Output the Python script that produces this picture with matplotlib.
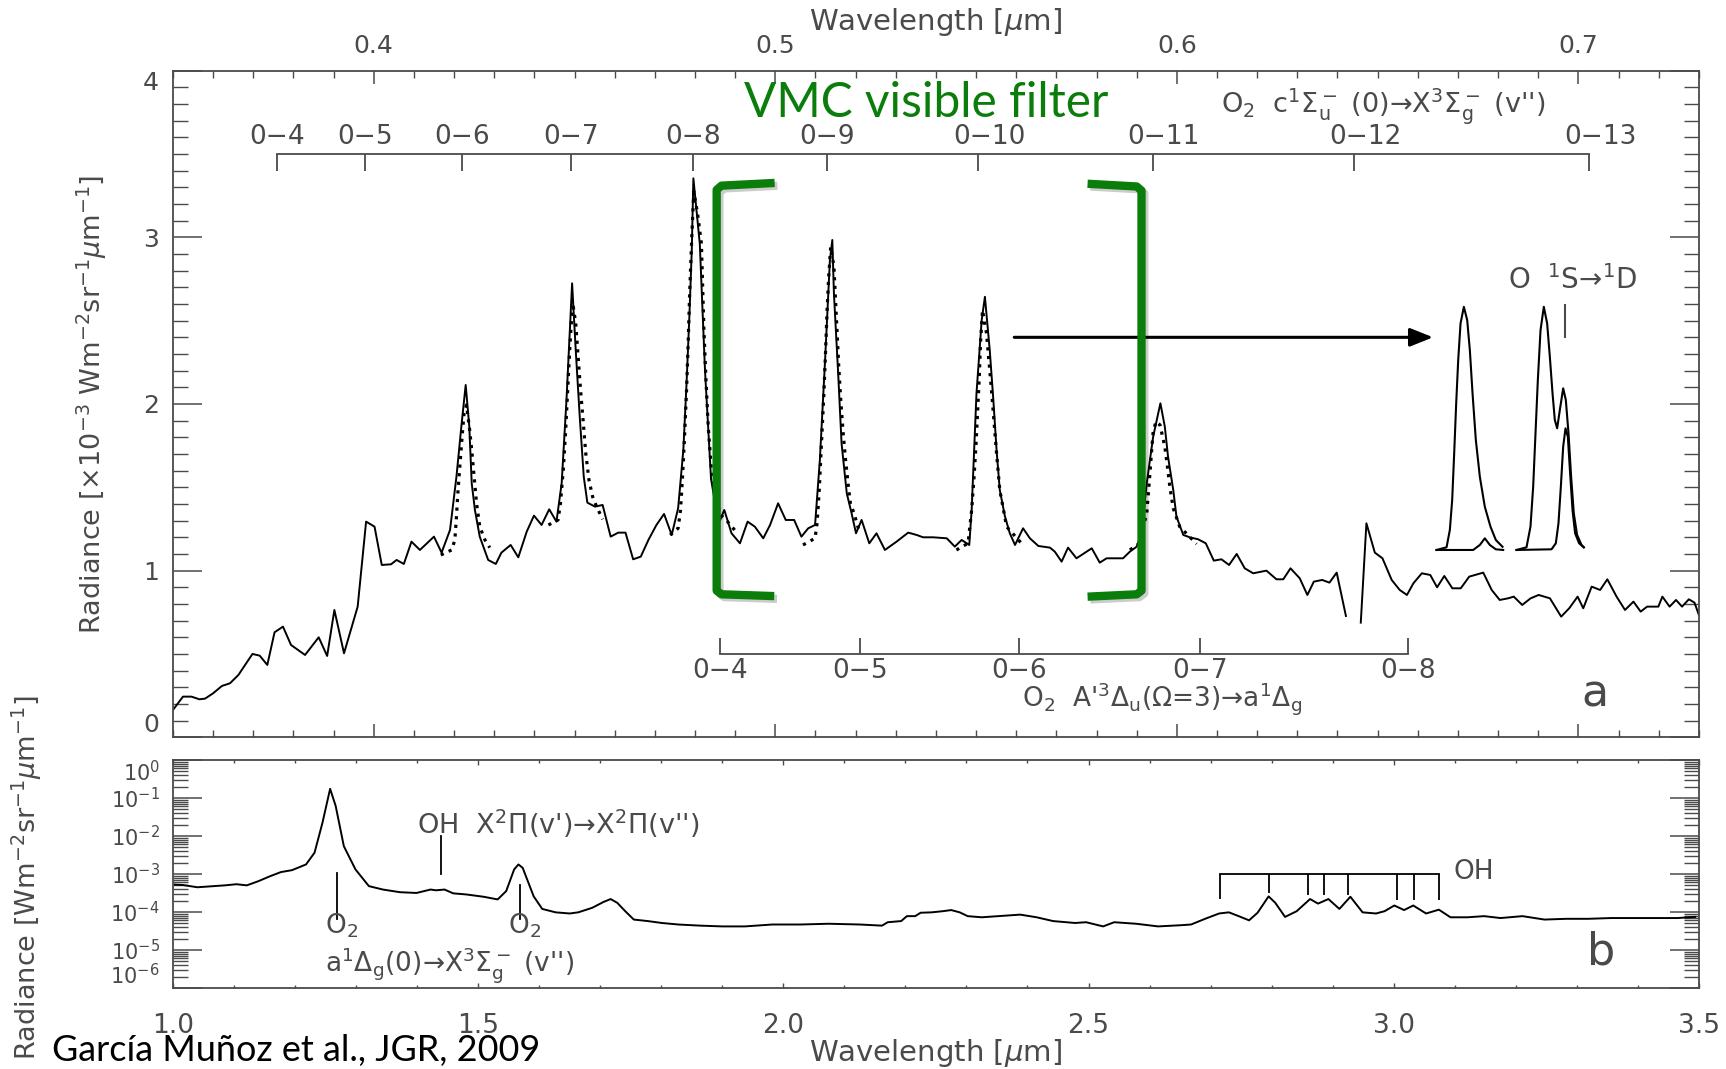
import numpy as np
import matplotlib
matplotlib.use("Agg")
import matplotlib.pyplot as plt
import matplotlib.patheffects as pe
from matplotlib.ticker import MultipleLocator, LogLocator, NullFormatter, FormatStrFormatter

GREY = "#4a4a4a"
GREEN = "#0a7d0a"
plt.rcParams.update({
    "font.family": "DejaVu Sans", "mathtext.fontset": "dejavusans",
    "text.color": GREY, "axes.labelcolor": GREY, "axes.edgecolor": GREY,
    "xtick.color": GREY, "ytick.color": GREY, "axes.linewidth": 1.3,
    "xtick.direction": "in", "ytick.direction": "in",
})

# ---------------------------------------------------------------------------
# panel a: visible spectrum (radiance in 1e-3 W m-2 sr-1 um-1), nan = gap
# ---------------------------------------------------------------------------
vis_wl = [0.3500, 0.3525, 0.3546, 0.3566, 0.3580, 0.3600, 0.3622, 0.3642, 0.3663, 0.3698,
          0.3716, 0.3735, 0.3753, 0.3774, 0.3794, 0.3829, 0.3863, 0.3884, 0.3902, 0.3926,
          0.3960, 0.3981, 0.4002, 0.4020, 0.4043, 0.4057, 0.4075, 0.4094, 0.4115, 0.4150,
          0.4169, 0.4190, 0.4206, 0.4219, 0.4229, 0.4238, 0.4244, 0.4252, 0.4264, 0.4285,
          0.4304, 0.4318, 0.4341, 0.4360, 0.4381, 0.4399, 0.4418, 0.4437, 0.4455, 0.4468,
          0.4480, 0.4494, 0.4503, 0.4513, 0.4523, 0.4532, 0.4551, 0.4570, 0.4590, 0.4609,
          0.4627, 0.4646, 0.4665, 0.4684, 0.4704, 0.4723, 0.4742, 0.4758, 0.4771, 0.4779,
          0.4786, 0.4792, 0.4796, 0.4812, 0.4825, 0.4840, 0.4852, 0.4862, 0.4873, 0.4891,
          0.4912, 0.4931, 0.4949, 0.4970, 0.4987, 0.5007, 0.5026, 0.5047, 0.5065, 0.5082,
          0.5099, 0.5111, 0.5124, 0.5136, 0.5142, 0.5146, 0.5157, 0.5165, 0.5178, 0.5190,
          0.5201, 0.5215, 0.5234, 0.5252, 0.5273, 0.5302, 0.5331, 0.5352, 0.5368, 0.5393,
          0.5427, 0.5447, 0.5464, 0.5483, 0.5489, 0.5501, 0.5514, 0.5522, 0.5534, 0.5543,
          0.5551, 0.5559, 0.5572, 0.5584, 0.5597, 0.5617, 0.5634, 0.5655, 0.5684, 0.5696,
          0.5713, 0.5729, 0.5750, 0.5788, 0.5808, 0.5825, 0.5866, 0.5883, 0.5900, 0.5912,
          0.5925, 0.5941, 0.5959, 0.5970, 0.5978, 0.5991, 0.5999, 0.6016, 0.6032, 0.6053,
          0.6072, 0.6092, 0.6111, 0.6130, 0.6149, 0.6169, 0.6190, 0.6223, 0.6248, 0.6265,
          0.6283, 0.6306, 0.6325, 0.6341, 0.6362, 0.6380, 0.6398, 0.6421, np.nan, 0.6458,
          0.6472, 0.6493, 0.6512, 0.6535, 0.6555, 0.6573, 0.6589, 0.6610, 0.6631, 0.6648,
          0.6666, 0.6686, 0.6707, 0.6728, 0.6763, 0.6784, 0.6804, 0.6825, 0.6839, 0.6860,
          0.6881, 0.6901, 0.6929, 0.6957, 0.6977, 0.6998, 0.7012, 0.7033, 0.7054, 0.7072,
          0.7095, 0.7116, 0.7137, 0.7155, 0.7171, 0.7199, 0.7209, 0.7227, 0.7243, 0.7258,
          0.7275, 0.7289, 0.7300]
vis_rad = [0.164, 0.244, 0.244, 0.228, 0.232, 0.264, 0.308, 0.324, 0.374, 0.500,
           0.490, 0.434, 0.630, 0.664, 0.554, 0.494, 0.600, 0.488, 0.764, 0.504,
           0.784, 1.294, 1.264, 1.034, 1.038, 1.064, 1.040, 1.174, 1.124, 1.204,
           1.108, 1.244, 1.564, 1.884, 2.114, 1.864, 1.524, 1.364, 1.204, 1.064,
           1.040, 1.108, 1.154, 1.080, 1.234, 1.330, 1.274, 1.368, 1.294, 1.524,
           2.024, 2.724, 2.324, 1.924, 1.564, 1.408, 1.384, 1.394, 1.204, 1.228,
           1.228, 1.068, 1.084, 1.184, 1.274, 1.340, 1.214, 1.374, 1.724, 2.124,
           2.524, 2.924, 3.354, 2.960, 2.200, 1.550, 1.380, 1.300, 1.364, 1.224,
           1.164, 1.294, 1.264, 1.194, 1.274, 1.404, 1.304, 1.304, 1.204, 1.254,
           1.274, 1.664, 2.264, 2.864, 2.984, 2.663, 2.163, 1.764, 1.464, 1.344,
           1.224, 1.304, 1.164, 1.224, 1.124, 1.174, 1.228, 1.214, 1.200, 1.200,
           1.194, 1.144, 1.184, 1.154, 1.364, 2.064, 2.504, 2.643, 2.324, 2.024,
           1.724, 1.484, 1.324, 1.224, 1.154, 1.254, 1.194, 1.148, 1.138, 1.114,
           1.054, 1.138, 1.074, 1.134, 1.048, 1.074, 1.074, 1.114, 1.144, 1.224,
           1.524, 1.804, 2.004, 1.864, 1.684, 1.484, 1.324, 1.214, 1.200, 1.188,
           1.164, 1.060, 1.068, 1.034, 1.100, 1.014, 0.984, 1.000, 0.948, 0.948,
           1.014, 0.954, 0.854, 0.934, 0.944, 0.928, 0.988, 0.728, np.nan, 0.688,
           1.284, 1.108, 1.074, 0.944, 0.884, 0.854, 0.924, 0.984, 0.974, 0.900,
           0.968, 0.894, 0.894, 0.964, 0.988, 0.884, 0.824, 0.834, 0.844, 0.794,
           0.834, 0.854, 0.834, 0.724, 0.774, 0.844, 0.774, 0.904, 0.884, 0.948,
           0.844, 0.764, 0.814, 0.754, 0.784, 0.784, 0.844, 0.784, 0.824, 0.784,
           0.828, 0.808, 0.734]

# synthetic band profiles (dotted), nan separates the bands
model_wl = [0.4167, 0.4194, 0.4202, 0.4206, 0.4210, 0.4215, 0.4220, 0.4225, 0.4231, 0.4238,
            0.4244, 0.4250, 0.4256, 0.4264, 0.4277, 0.4289, np.nan,
            0.4435, 0.4459, 0.4465, 0.4472, 0.4478, 0.4483, 0.4488, 0.4493, 0.4497, 0.4503,
            0.4509, 0.4515, 0.4522, 0.4528, 0.4536, 0.4545, 0.4555, 0.4570, np.nan,
            0.4738, 0.4758, 0.4764, 0.4769, 0.4774, 0.4779, 0.4783, 0.4787, 0.4792, 0.4797,
            0.4806, 0.4816, 0.4822, 0.4827, 0.4833, 0.4841, 0.4852, 0.4866, 0.4879, 0.4900, np.nan,
            0.5069, 0.5099, 0.5104, 0.5109, 0.5113, 0.5117, 0.5121, 0.5125, 0.5129, 0.5133,
            0.5138, 0.5146, 0.5150, 0.5154, 0.5158, 0.5163, 0.5169, 0.5175, 0.5182, 0.5187,
            0.5196, 0.5208, np.nan,
            0.5451, 0.5480, 0.5489, 0.5495, 0.5500, 0.5504, 0.5508, 0.5511, 0.5516, 0.5526,
            0.5539, 0.5551, 0.5559, 0.5576, 0.5613, np.nan,
            0.5883, 0.5905, 0.5925, 0.5931, 0.5937, 0.5941, 0.5948, 0.5958, 0.5970, 0.5977,
            0.5983, 0.5991, 0.6007, 0.6049]
model_rad = [1.094, 1.124, 1.184, 1.324, 1.484, 1.644, 1.804, 1.944, 1.994, 1.864,
             1.724, 1.564, 1.404, 1.264, 1.184, 1.138, np.nan,
             1.274, 1.304, 1.404, 1.604, 1.844, 2.084, 2.324, 2.524, 2.583, 2.484,
             2.284, 2.084, 1.884, 1.704, 1.544, 1.444, 1.384, 1.308, np.nan,
             1.214, 1.254, 1.364, 1.564, 1.804, 2.084, 2.364, 2.684, 3.000, 3.274,
             3.150, 2.963, 2.463, 2.163, 1.863, 1.600, 1.420, 1.330, 1.300, 1.240, np.nan,
             1.154, 1.194, 1.284, 1.464, 1.664, 1.864, 2.064, 2.304, 2.564, 2.764,
             2.943, 2.823, 2.624, 2.424, 2.224, 2.024, 1.824, 1.664, 1.504, 1.404,
             1.344, 1.244, np.nan,
             1.124, 1.164, 1.364, 1.564, 1.764, 1.964, 2.164, 2.364, 2.563, 2.424,
             2.064, 1.704, 1.484, 1.264, 1.164, np.nan,
             1.124, 1.160, 1.344, 1.524, 1.714, 1.834, 1.894, 1.874, 1.744, 1.614,
             1.494, 1.374, 1.264, 1.160]

# O 1S->1D green line sketches (inset profiles)
green_a_wl = [0.66466, 0.66716, 0.66798, 0.66856, 0.66906, 0.66956, 0.67006, 0.67064, 0.67147,
              0.67230, 0.67296, 0.67363, 0.67445, 0.67545, 0.67669, 0.67811, 0.67943, 0.68110]
green_a_rad = [1.124, 1.140, 1.244, 1.424, 1.704, 2.004, 2.263, 2.483, 2.583,
               2.503, 2.323, 2.064, 1.784, 1.563, 1.383, 1.263, 1.184, 1.143]
green_b_wl = [0.66466, 0.67379, 0.67545, 0.67669, 0.67794, 0.67943, 0.68126]
green_b_rad = [1.124, 1.124, 1.154, 1.194, 1.154, 1.128, 1.124]
green_c_wl = [0.68458, 0.68707, 0.68806, 0.68873, 0.68931, 0.68989, 0.69056, 0.69138, 0.69221,
              0.69288, 0.69355, 0.69412, 0.69470, 0.69537, 0.69620, 0.69686, 0.69753, 0.69818,
              0.69885, 0.69967, 0.70077, 0.70134]
green_c_rad = [1.124, 1.140, 1.264, 1.504, 1.824, 2.143, 2.443, 2.583, 2.483,
               2.283, 2.064, 1.904, 1.854, 1.964, 2.094, 2.024, 1.824, 1.563,
               1.343, 1.214, 1.154, 1.140]
green_d_wl = [0.68458, 0.69330, 0.69437, 0.69503, 0.69562, 0.69620, 0.69678, 0.69736, 0.69793,
              0.69853, 0.69917, 0.70017, 0.70134]
green_d_rad = [1.124, 1.128, 1.164, 1.284, 1.504, 1.744, 1.854, 1.804, 1.584,
               1.363, 1.224, 1.164, 1.140]

c_band_labels = ["0\u22124", "0\u22125", "0\u22126", "0\u22127", "0\u22128", "0\u22129",
                 "0\u221210", "0\u221211", "0\u221212", "0\u221213"]
c_band_wl = [0.3760, 0.3978, 0.4220, 0.4492, 0.4794, 0.5128, 0.5506, 0.5940, 0.6442, 0.7026]
a_band_labels = ["0\u22124", "0\u22125", "0\u22126", "0\u22127", "0\u22128"]
a_band_wl = [0.4863, 0.5211, 0.5607, 0.6057, 0.6576]

# ---------------------------------------------------------------------------
# panel b: near-IR spectrum, log10 of radiance in W m-2 sr-1 um-1
# ---------------------------------------------------------------------------
nir_wl = [1.003, 1.016, 1.040, 1.058, 1.085, 1.104, 1.121, 1.140, 1.159, 1.177,
          1.195, 1.218, 1.232, 1.245, 1.2575, 1.2666, 1.280, 1.299, 1.321, 1.344,
          1.372, 1.399, 1.422, 1.431, 1.445, 1.459, 1.481, 1.509, 1.532, 1.546,
          1.559, 1.566, 1.573, 1.591, 1.605, 1.627, 1.650, 1.664, 1.687, 1.705,
          1.717, 1.728, 1.741, 1.755, 1.778, 1.801, 1.828, 1.864, 1.900, 1.937,
          1.982, 2.028, 2.074, 2.1255, 2.1617, 2.171, 2.193, 2.2025, 2.216, 2.225,
          2.243, 2.261, 2.275, 2.289, 2.302, 2.325, 2.352, 2.388, 2.415, 2.442,
          2.478, 2.496, 2.524, 2.542, 2.578, 2.614, 2.650, 2.668, 2.691, 2.714,
          2.730, 2.746, 2.763, 2.777, 2.795, 2.806, 2.822, 2.841, 2.863, 2.876,
          2.893, 2.911, 2.929, 2.949, 2.971, 2.985, 3.001, 3.017, 3.032, 3.053,
          3.074, 3.093, 3.121, 3.148, 3.175, 3.211, 3.247, 3.283, 3.319, 3.356,
          3.392, 3.428, 3.465, 3.494]
nir_lograd = [-3.28, -3.29, -3.35, -3.33, -3.30, -3.27, -3.30, -3.19, -3.06, -2.95,
              -2.90, -2.75, -2.44, -1.65, -0.76, -1.21, -2.27, -2.88, -3.32, -3.41,
              -3.48, -3.50, -3.41, -3.43, -3.41, -3.51, -3.54, -3.60, -3.67, -3.45,
              -2.88, -2.75, -2.84, -3.59, -3.92, -4.01, -4.04, -4.01, -3.89, -3.74,
              -3.66, -3.76, -3.98, -4.20, -4.24, -4.29, -4.33, -4.36, -4.38, -4.38,
              -4.33, -4.33, -4.31, -4.33, -4.36, -4.27, -4.24, -4.11, -4.11, -4.02,
              -4.01, -3.98, -3.95, -4.01, -4.11, -4.14, -4.11, -4.07, -4.14, -4.24,
              -4.29, -4.27, -4.38, -4.27, -4.31, -4.38, -4.35, -4.33, -4.18, -4.04,
              -4.01, -4.11, -4.22, -4.02, -3.59, -3.76, -4.13, -3.98, -3.66, -3.78,
              -3.66, -3.92, -3.60, -4.01, -4.04, -3.98, -3.83, -3.95, -3.83, -4.04,
              -3.94, -4.14, -4.14, -4.11, -4.16, -4.11, -4.20, -4.18, -4.18, -4.16,
              -4.16, -4.16, -4.16, -4.13]

oh_band_wl = [2.7154, 2.7950, 2.8602, 2.8855, 2.9244, 3.0049, 3.0330, 3.0737]
oh_band_low = [-3.67, -3.51, -3.55, -3.55, -3.55, -3.69, -3.69, -3.69]

# ---------------------------------------------------------------------------
fig = plt.figure(figsize=(17.26, 10.69), dpi=100)
ax1 = fig.add_axes([0.1002, 0.3103, 0.8841, 0.6236])
ax2 = fig.add_axes([0.1002, 0.0758, 0.8841, 0.2133])

def fit_width(txt, width_px):
    fig.canvas.draw()
    w = txt.get_window_extent().width
    txt.set_fontsize(txt.get_fontsize() * width_px / w)

# ---- panel a
ax1.plot(vis_wl, vis_rad, color="k", lw=1.4)
ax1.plot(model_wl, model_rad, color="k", lw=2.3, ls=(0, (1, 1.7)))
for wl, rad in [(green_a_wl, green_a_rad), (green_b_wl, green_b_rad),
                (green_c_wl, green_c_rad), (green_d_wl, green_d_rad)]:
    ax1.plot(wl, rad, color="k", lw=1.5, solid_joinstyle="round")

ax1.set_xlim(0.35, 0.73)
ax1.set_ylim(0, 4)
ax1.xaxis.set_major_locator(MultipleLocator(0.1))
ax1.xaxis.set_minor_locator(MultipleLocator(0.01))
ax1.xaxis.set_major_formatter(FormatStrFormatter("%.1f"))
ax1.yaxis.set_major_locator(MultipleLocator(1))
ax1.yaxis.set_minor_locator(MultipleLocator(0.1))
ax1.tick_params(axis="x", which="both", top=True, bottom=True, labeltop=True,
                labelbottom=False, labelsize=18, pad=9)
ax1.tick_params(axis="x", which="major", length=9.5, width=1.1)
ax1.tick_params(axis="x", which="minor", length=5, width=1.0)
ax1.tick_params(axis="y", which="both", left=True, right=True, labelsize=18, pad=10)
ax1.tick_params(axis="y", which="major", length=21, width=1.1)
ax1.tick_params(axis="y", which="minor", length=10.5, width=1.0)

ax1.set_xlabel(r"Wavelength [$\mu$m]", fontsize=21)
ax1.xaxis.set_label_position("top")
ax1.xaxis.set_label_coords(0.5, 1.073)
ax1.xaxis.label.set_va("center")
ax1.set_ylabel(r"Radiance [$\times$10$^{-3}$ Wm$^{-2}$sr$^{-1}$$\mu$m$^{-1}$]", fontsize=19.5)
ax1.yaxis.set_label_coords(-0.042, 0.5)

# band combs
ax1.plot([c_band_wl[0], c_band_wl[-1]], [3.5, 3.5], color=GREY, lw=1.3)
ax1.vlines(c_band_wl, 3.4, 3.5, color=GREY, lw=1.3)
for lab, wl in zip(c_band_labels, c_band_wl):
    ax1.annotate(lab, (wl, 3.6), xytext=(8 if len(lab) > 3 else 0, 0),
                 textcoords="offset points", ha="center", va="center", fontsize=19)
ax1.text(0.6513, 3.79, r"O$_2$  c$^1\Sigma_\mathrm{u}^-$ (0)→X$^3\Sigma_\mathrm{g}^-$ (v'')",
         ha="center", va="center", fontsize=19.5)

ax1.plot([a_band_wl[0], a_band_wl[-1]], [0.5, 0.5], color=GREY, lw=1.3)
ax1.vlines(a_band_wl, 0.5, 0.594, color=GREY, lw=1.3)
for lab, wl in zip(a_band_labels, a_band_wl):
    ax1.text(wl, 0.40, lab, ha="center", va="center", fontsize=19)
ax1.text(0.5963, 0.235, r"O$_2$  A'$^3\Delta_\mathrm{u}$($\Omega$=3)→a$^1\Delta_\mathrm{g}$",
         ha="center", va="center", fontsize=19)

# O green line pointer
ax1.annotate("", xy=(0.6638, 2.40), xytext=(0.5595, 2.40),
             arrowprops=dict(arrowstyle="-|>,head_length=0.7,head_width=0.28", color="k",
                             lw=2.2, shrinkA=0, shrinkB=0, mutation_scale=20))
ax1.plot([0.6966, 0.6966], [2.403, 2.593], color=GREY, lw=1.5)
ax1.text(0.6985, 2.744, r"O  $^1$S→$^1$D", ha="center", va="center", fontsize=20)
ax1.text(0.704, 0.258, "a", ha="center", va="center", fontsize=32)

# VMC filter bracket
shadow = [pe.SimpleLineShadow(offset=(2, -2), shadow_color="k", alpha=0.2), pe.Normal()]
ax1.plot([0.4988, 0.4866, 0.4854, 0.4854, 0.4866, 0.4987],
         [3.325, 3.310, 3.285, 0.880, 0.858, 0.848],
         color=GREEN, lw=6, solid_joinstyle="round", path_effects=shadow, zorder=5)
ax1.plot([0.5788, 0.5900, 0.5912, 0.5912, 0.5900, 0.5788],
         [3.320, 3.305, 3.280, 0.880, 0.858, 0.845],
         color=GREEN, lw=6, solid_joinstyle="round", path_effects=shadow, zorder=5)
vmc = ax1.text(0.4921, 3.72, "VMC visible filter", color=GREEN, family="Lato",
               ha="left", va="baseline", fontsize=32, zorder=6)

# ---- panel b
ax2.plot(nir_wl, 10 ** np.array(nir_lograd), color="k", lw=1.4)
ax2.set_yscale("log")
ax2.set_xlim(1.0, 3.5)
ax2.set_ylim(1e-6, 1)
ax2.xaxis.set_major_locator(MultipleLocator(0.5))
ax2.xaxis.set_minor_locator(MultipleLocator(0.1))
ax2.xaxis.set_major_formatter(FormatStrFormatter("%.1f"))
ax2.yaxis.set_major_locator(LogLocator(base=10, numticks=20))
ax2.yaxis.set_minor_locator(LogLocator(base=10, subs=np.arange(2, 10), numticks=100))
ax2.yaxis.set_minor_formatter(NullFormatter())
ax2.tick_params(axis="x", which="both", top=True, bottom=True, labelsize=19, pad=18)
ax2.tick_params(axis="x", which="major", length=3.5, width=1.0)
ax2.tick_params(axis="x", which="minor", length=2.5, width=1.0)
ax2.tick_params(axis="y", which="both", left=True, right=True, labelsize=15, pad=9.5)
ax2.tick_params(axis="y", which="major", length=21, width=1.1)
ax2.tick_params(axis="y", which="minor", length=10.5, width=1.0)
ax2.set_xlabel(r"Wavelength [$\mu$m]", fontsize=21)
ax2.xaxis.set_label_coords(0.5, -0.285)
ax2.xaxis.label.set_va("center")
ax2.set_ylabel(r"Radiance [Wm$^{-2}$sr$^{-1}$$\mu$m$^{-1}$]", fontsize=19.5)
ax2.yaxis.set_label_coords(-0.0845, 0.485)

ax2.plot([oh_band_wl[0], oh_band_wl[-1]], [10 ** -2.99] * 2, color="k", lw=1.3)
ax2.vlines(oh_band_wl, 10 ** -2.99, 10 ** np.array(oh_band_low), color="k", lw=1.3)
ax2.text(3.098, 10 ** -2.96, "OH", ha="left", va="center", fontsize=19)
ax2.plot([1.4394, 1.4394], [10 ** -2.0, 10 ** -2.99], color="k", lw=1.3)
ax2.text(1.4004, 10 ** -1.69, r"OH  X$^2\Pi$(v')→X$^2\Pi$(v'')", ha="left", va="center", fontsize=19.5)
ax2.plot([1.2694, 1.2694], [10 ** -2.98, 10 ** -4.19], color="k", lw=1.3)
ax2.plot([1.5690, 1.5690], [10 ** -3.29, 10 ** -4.19], color="k", lw=1.3)
ax2.text(1.2485, 10 ** -4.36, r"O$_2$", ha="left", va="center", fontsize=19)
ax2.text(1.5485, 10 ** -4.36, r"O$_2$", ha="left", va="center", fontsize=19)
ax2.text(1.2485, 10 ** -5.40, r"a$^1\Delta_\mathrm{g}$(0)→X$^3\Sigma_\mathrm{g}^-$ (v'')",
         ha="left", va="center", fontsize=19)
ax2.text(3.339, 10 ** -5.06, "b", ha="center", va="center", fontsize=32)

cite = fig.text(52 / 1726, 1 - 1051 / 1069, "García Muñoz et al., JGR, 2009", family="Lato",
                color="black", fontsize=23, ha="left", va="center")

fit_width(vmc, 364)
fit_width(cite, 489)

# end labels sit inside the frame, as in the original
fig.canvas.draw()
for ax, lo, hi in [(ax1, 0.0, 4.0), (ax2, 1e-6, 1.0)]:
    for tick in ax.yaxis.get_major_ticks():
        if np.isclose(tick.get_loc(), lo):
            tick.label1.set_va("bottom")
        elif np.isclose(tick.get_loc(), hi):
            tick.label1.set_va("top")

fig.savefig("out.png", dpi=100)
